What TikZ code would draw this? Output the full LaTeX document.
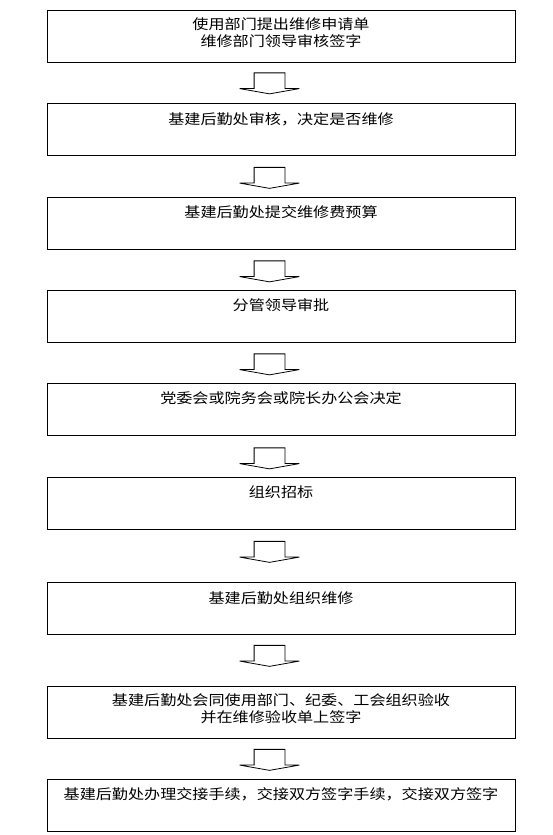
\documentclass[tikz,border=0pt]{standalone}
\usepackage{fontspec}
\setmainfont{Noto Sans CJK SC}[FakeStretch=1.15]
\usetikzlibrary{shapes.arrows}
\tikzstyle{stepbox} = [rectangle, draw=black, line width=1pt, minimum width=468pt, minimum height=52pt, inner sep=0pt]
\tikzstyle{steptext} = [align=center, inner sep=0pt, font=\fontsize{14pt}{17pt}\selectfont]
\tikzstyle{downarrow} = [single arrow, draw=black, line width=0.8pt, shape border rotate=270, single arrow head extend=14.5pt, single arrow tip angle=160, minimum height=21pt, text width=30pt, inner sep=0pt]

\begin{document}
\begin{tikzpicture}[x=1pt,y=-1pt]
\useasboundingbox (0,0) rectangle (552,835);
\node(box1)[stepbox] at (281,36) {};
\node(box2)[stepbox] at (281,129) {};
\node(box3)[stepbox] at (281,223) {};
\node(box4)[stepbox] at (281,316) {};
\node(box5)[stepbox] at (281,409) {};
\node(box6)[stepbox] at (281,503) {};
\node(box7)[stepbox] at (281,608) {};
\node(box8)[stepbox] at (281,712) {};
\node(box9)[stepbox] at (281,805) {};

\node(txt1)[steptext] at (281,32.75) {使用部门提出维修申请单\\维修部门领导审核签字};
\node(txt2)[steptext] at (281,119) {基建后勤处审核，决定是否维修};
\node(txt3)[steptext] at (281,212.5) {基建后勤处提交维修费预算};
\node(txt4)[steptext] at (281,305.5) {分管领导审批};
\node(txt5)[steptext] at (281,398.5) {党委会或院务会或院长办公会决定};
\node(txt6)[steptext] at (281,492.5) {组织招标};
\node(txt7)[steptext] at (281,598) {基建后勤处组织维修};
\node(txt8)[steptext] at (281,709) {基建后勤处会同使用部门、纪委、工会组织验收\\并在维修验收单上签字};
\node(txt9)[steptext] at (281,794.5) {基建后勤处办理交接手续，交接双方签字手续，交接双方签字};

\node(arr1)[downarrow] at (269.5,82) {};
\node(arr2)[downarrow] at (269.5,176.5) {};
\node(arr3)[downarrow] at (269.5,270) {};
\node(arr4)[downarrow] at (269.5,363) {};
\node(arr5)[downarrow] at (269.5,457) {};
\node(arr6)[downarrow] at (269.5,550.5) {};
\node(arr7)[downarrow] at (269.5,654.5) {};
\node(arr8)[downarrow] at (269.5,758.5) {};

\end{tikzpicture}
\end{document}
